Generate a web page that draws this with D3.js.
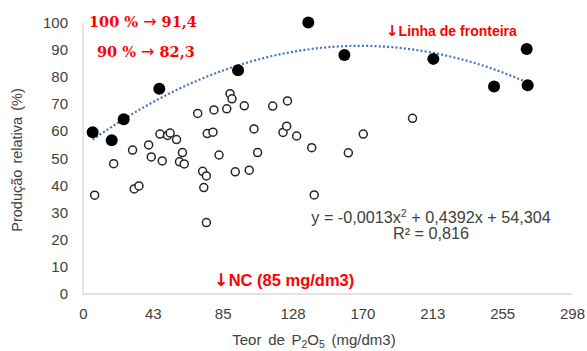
<!DOCTYPE html>
<html>
<head>
<meta charset="utf-8">
<script src="https://cdn.jsdelivr.net/npm/d3@7"></script>
<style>
  html, body { margin: 0; padding: 0; background: #fff; }
  svg { display: block; }
</style>
</head>
<body>
<svg id="chart" width="587" height="351"></svg>
<script>
// ---- data ----
const frontierX = [5.9, 17.5, 24.8, 46.5, 94.5, 137.3, 159.3, 213.5, 250.5, 270.4, 271.0];
const frontierY = [59.6, 56.6, 64.4, 75.6, 82.4, 100.0, 88.0, 86.6, 76.4, 90.2, 76.9];

const otherX = [18.7, 30.2, 40.0, 41.6, 46.9, 48.3, 51.5, 53.1, 57.0, 60.6, 58.8, 61.7, 69.9, 72.9,
  75.2, 75.7, 79.2, 79.8, 82.9, 87.6, 89.6, 90.8, 92.8, 98.3, 101.3, 104.2, 106.4, 115.6, 121.9,
  124.6, 124.1, 130.2, 139.4, 161.7, 170.8, 200.8, 7.1, 31.2, 34.1, 73.6, 75.2, 140.9];
const otherY = [48.0, 53.0, 54.9, 50.5, 58.9, 49.0, 58.4, 59.3, 56.9, 52.1, 48.7, 47.9, 66.5, 45.2,
  43.5, 59.1, 59.6, 67.8, 51.2, 68.2, 73.8, 71.9, 45.0, 69.3, 45.6, 60.8, 52.1, 69.2, 59.5,
  71.1, 61.8, 58.2, 53.9, 52.0, 58.9, 64.7, 36.4, 38.7, 39.8, 39.2, 26.3, 36.5];

const trendCoef = [-0.0013, 0.4392, 54.304]; // a, b, c
const xTickLabels = ["0", "43", "85", "128", "170", "213", "255", "298"];
const yTickValues = [0, 10, 20, 30, 40, 50, 60, 70, 80, 90, 100];
const xMax = 298, yMax = 100;

// ---- layout ----
const svg = d3.select("#chart");
const x = d3.scaleLinear().domain([0, xMax]).range([83, 572]);
const y = d3.scaleLinear().domain([0, yMax]).range([294, 22.5]);
const axisColor = "#d9d9d9";
const textColor = "#404040";
const fontSans = "'Liberation Sans', Arial, sans-serif";

// axes lines
svg.append("line").attr("x1", x(0)).attr("x2", x(0)).attr("y1", y(yMax)).attr("y2", y(0))
  .attr("stroke", axisColor).attr("stroke-width", 1.3);
svg.append("line").attr("x1", x(0)).attr("x2", x(xMax)).attr("y1", y(0)).attr("y2", y(0))
  .attr("stroke", axisColor).attr("stroke-width", 1.3);

// y ticks
const yAxis = d3.axisLeft(y).tickValues(yTickValues).tickSize(0).tickPadding(15);
const gy = svg.append("g").attr("transform", `translate(${x(0)},0)`).call(yAxis);
gy.select(".domain").remove();
gy.selectAll("text").attr("font-family", fontSans).attr("font-size", 15).attr("fill", textColor);

// x ticks
const xTickVals = xTickLabels.map((d, i) => i * xMax / (xTickLabels.length - 1));
const xAxis = d3.axisBottom(x).tickValues(xTickVals).tickSize(0).tickPadding(14)
  .tickFormat((d, i) => xTickLabels[i]);
const gx = svg.append("g").attr("transform", `translate(0,${y(0)})`).call(xAxis);
gx.select(".domain").remove();
gx.selectAll("text").attr("font-family", fontSans).attr("font-size", 15).attr("fill", textColor);

// axis titles
svg.append("text")
  .attr("transform", `translate(22,160) rotate(-90)`)
  .attr("text-anchor", "middle")
  .attr("font-family", fontSans).attr("font-size", 14.5).attr("fill", textColor)
  .attr("word-spacing", 2)
  .text("Produção relativa (%)");

const xt = svg.append("text")
  .attr("x", 314).attr("y", 345)
  .attr("text-anchor", "middle")
  .attr("font-family", fontSans).attr("font-size", 15).attr("fill", textColor)
  .attr("word-spacing", 2.5);
xt.append("tspan").text("Teor de P");
xt.append("tspan").attr("font-size", 10.5).attr("dy", 3).text("2");
xt.append("tspan").attr("dy", -3).text("O");
xt.append("tspan").attr("font-size", 10.5).attr("dy", 3).text("5");
xt.append("tspan").attr("dy", -3).text(" (mg/dm3)");

// trend line (from the equation shown on the chart)
const [ta, tb, tc] = trendCoef;
const xMinF = d3.min(frontierX), xMaxF = d3.max(frontierX);
const trendPts = d3.range(0, 101).map(i => {
  const xv = xMinF + (xMaxF - xMinF) * i / 100;
  return [xv, ta * xv * xv + tb * xv + tc];
});
svg.append("path")
  .attr("d", d3.line().x(d => x(d[0])).y(d => y(d[1]))(trendPts))
  .attr("fill", "none").attr("stroke", "#4472c4").attr("stroke-width", 2.2)
  .attr("stroke-dasharray", "2,2.2");

// open points
svg.append("g").selectAll("circle").data(otherX.map((d, i) => [d, otherY[i]])).join("circle")
  .attr("cx", d => x(d[0])).attr("cy", d => y(d[1])).attr("r", 4)
  .attr("fill", "#fff").attr("stroke", "#262626").attr("stroke-width", 1.5);

// frontier points
svg.append("g").selectAll("circle").data(frontierX.map((d, i) => [d, frontierY[i]])).join("circle")
  .attr("cx", d => x(d[0])).attr("cy", d => y(d[1])).attr("r", 6)
  .attr("fill", "#000");

// annotations
const red = "#ff0000";
const serif = "'DejaVu Serif', 'Liberation Serif', serif";
const arrowFont = "'DejaVu Sans', sans-serif";
function serifNote(xp, yp, a, b) {
  const t = svg.append("text").attr("x", xp).attr("y", yp)
    .attr("font-family", serif).attr("font-weight", "bold").attr("font-size", 14.5).attr("fill", red);
  t.append("tspan").text(a + " ");
  t.append("tspan").attr("font-family", arrowFont).attr("font-weight", "normal").attr("font-size", 16).text("→");
  t.append("tspan").text(" " + b);
}
serifNote(89, 27, "100 %", "91,4");
serifNote(97, 57, "90 %", "82,3");

const narrow = "'Liberation Sans Narrow', 'Liberation Sans', Arial, sans-serif";
function downNote(xp, yp, fs, label) {
  const t = svg.append("text").attr("x", xp).attr("y", yp)
    .attr("font-family", narrow).attr("font-weight", "bold").attr("font-size", fs).attr("fill", red);
  t.append("tspan").attr("font-family", arrowFont).attr("font-weight", "bold").attr("font-size", fs + 1).text("↓");
  t.append("tspan").text(label);
}
downNote(386, 36, 14, "Linha de fronteira");
downNote(214, 286, 16.5, "NC (85 mg/dm3)");

// equation
svg.append("text").attr("x", 431).attr("y", 223).attr("text-anchor", "middle")
  .attr("font-family", fontSans).attr("font-size", 16.2).attr("fill", textColor)
  .html("y = -0,0013x<tspan font-size='10.5' dy='-6'>2</tspan><tspan dy='6'> + 0,4392x + 54,304</tspan>");
svg.append("text").attr("x", 431).attr("y", 239).attr("text-anchor", "middle")
  .attr("font-family", fontSans).attr("font-size", 16.2).attr("fill", textColor)
  .text("R² = 0,816");
</script>
</body>
</html>
